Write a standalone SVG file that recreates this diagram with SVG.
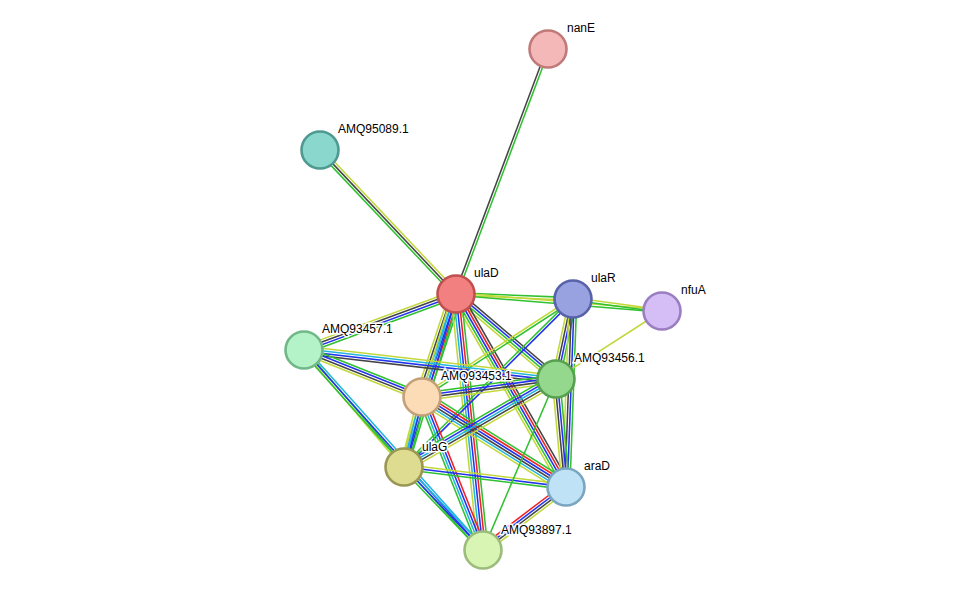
<svg xmlns="http://www.w3.org/2000/svg" width="976" height="597" viewBox="0 0 976 597">
<style>
line{stroke-width:1.1}
.g{stroke:#2fc12f}.b{stroke:#2233ee}.k{stroke:#444}.y{stroke:#c2d83a}.r{stroke:#ee2222}.c{stroke:#22b5dd}
.n circle{stroke-width:2.6}
text{font-family:"Liberation Sans",Arial,sans-serif;font-size:12px;fill:#000;stroke:#fff;stroke-width:3px;paint-order:stroke}
</style>
<rect width="976" height="597" fill="#fff"/>
<g id="edges">
<g transform="translate(456 294) rotate(-69.4) scale(1 1.4)"><line x2="262" y1="-0.9" y2="-0.9" class="k"/><line x2="262" y1="0.9" y2="0.9" class="g"/></g>
<g transform="translate(456 294) rotate(-133.4) scale(1 1.4)"><line x2="198" y1="-1.8" y2="-1.8" class="g"/><line x2="198" class="k"/><line x2="198" y1="1.8" y2="1.8" class="y"/></g>
<g transform="translate(456 294) rotate(2.4) scale(1 1.4)"><line x2="117" y1="-0.9" y2="-0.9" class="g"/><line x2="117" y1="0.9" y2="0.9" class="y"/></g>
<g transform="translate(456 294) rotate(4.7) scale(1 1.4)"><line x2="207" y1="-0.9" y2="-0.9" class="y"/><line x2="207" y1="0.9" y2="0.9" class="g"/></g>
<g transform="translate(456 294) rotate(159.8) scale(1 1.4)"><line x2="162" y1="-2.7" y2="-2.7" class="g"/><line x2="162" y1="-0.9" y2="-0.9" class="b"/><line x2="162" y1="0.9" y2="0.9" class="k"/><line x2="162" y1="2.7" y2="2.7" class="y"/></g>
<g transform="translate(456 294) rotate(108.3) scale(1 1.4)"><line x2="108" y1="-4.5" y2="-4.5" class="g"/><line x2="108" y1="-2.7" y2="-2.7" class="r"/><line x2="108" y1="-0.9" y2="-0.9" class="b"/><line x2="108" y1="0.9" y2="0.9" class="c"/><line x2="108" y1="2.7" y2="2.7" class="k"/><line x2="108" y1="4.5" y2="4.5" class="y"/></g>
<g transform="translate(456 294) rotate(106.7) scale(1 1.4)"><line x2="181" y1="-2.7" y2="-2.7" class="g"/><line x2="181" y1="-0.9" y2="-0.9" class="b"/><line x2="181" y1="0.9" y2="0.9" class="c"/><line x2="181" y1="2.7" y2="2.7" class="y"/></g>
<g transform="translate(456 294) rotate(40.4) scale(1 1.4)"><line x2="131" y1="-2.7" y2="-2.7" class="k"/><line x2="131" y1="-0.9" y2="-0.9" class="b"/><line x2="131" y1="0.9" y2="0.9" class="g"/><line x2="131" y1="2.7" y2="2.7" class="y"/></g>
<g transform="translate(456 294) rotate(60.3) scale(1 1.4)"><line x2="222" y1="-3.6" y2="-3.6" class="k"/><line x2="222" y1="-1.8" y2="-1.8" class="r"/><line x2="222" class="b"/><line x2="222" y1="1.8" y2="1.8" class="g"/><line x2="222" y1="3.6" y2="3.6" class="y"/></g>
<g transform="translate(456 294) rotate(84.0) scale(1 1.4)"><line x2="257" y1="-3.6" y2="-3.6" class="g"/><line x2="257" y1="-1.8" y2="-1.8" class="r"/><line x2="257" class="b"/><line x2="257" y1="1.8" y2="1.8" class="c"/><line x2="257" y1="3.6" y2="3.6" class="y"/></g>
<g transform="translate(573 299) rotate(7.7) scale(1 1.4)"><line x2="90" y1="-0.9" y2="-0.9" class="y"/><line x2="90" y1="0.9" y2="0.9" class="g"/></g>
<g transform="translate(573 299) rotate(102) scale(1 1.4)"><line x2="82" y1="-2.7" y2="-2.7" class="g"/><line x2="82" y1="-0.9" y2="-0.9" class="b"/><line x2="82" y1="0.9" y2="0.9" class="k"/><line x2="82" y1="2.7" y2="2.7" class="y"/></g>
<g transform="translate(573 299) rotate(147) scale(1 1.4)"><line x2="180" y1="-0.9" y2="-0.9" class="g"/><line x2="180" y1="0.9" y2="0.9" class="y"/></g>
<g transform="translate(573 299) rotate(135.2) scale(1 1.4)"><line x2="238" y1="-0.9" y2="-0.9" class="b"/><line x2="238" y1="0.9" y2="0.9" class="g"/></g>
<g transform="translate(573 299) rotate(92.1) scale(1 1.4)"><line x2="188" y1="-2.7" y2="-2.7" class="g"/><line x2="188" y1="-0.9" y2="-0.9" class="b"/><line x2="188" y1="0.9" y2="0.9" class="k"/><line x2="188" y1="2.7" y2="2.7" class="y"/></g>
<g transform="translate(662 311) rotate(147.3) scale(1 1.4)"><line x2="126" class="y"/></g>
<g transform="translate(304 350) rotate(6.6) scale(1 1.4)"><line x2="254" y1="-2.7" y2="-2.7" class="y"/><line x2="254" y1="-0.9" y2="-0.9" class="c"/><line x2="254" y1="0.9" y2="0.9" class="b"/><line x2="254" y1="2.7" y2="2.7" class="k"/></g>
<g transform="translate(304 350) rotate(21.7) scale(1 1.4)"><line x2="127" y1="-2.7" y2="-2.7" class="g"/><line x2="127" y1="-0.9" y2="-0.9" class="b"/><line x2="127" y1="0.9" y2="0.9" class="k"/><line x2="127" y1="2.7" y2="2.7" class="y"/></g>
<g transform="translate(304 350) rotate(49.5) scale(1 1.4)"><line x2="154" y1="-0.9" y2="-0.9" class="g"/><line x2="154" y1="0.9" y2="0.9" class="y"/></g>
<g transform="translate(304 350) rotate(48.2) scale(1 1.4)"><line x2="268" y1="-1.8" y2="-1.8" class="c"/><line x2="268" class="b"/><line x2="268" y1="1.8" y2="1.8" class="g"/></g>
<g transform="translate(422 397) rotate(-7.7) scale(1 1.4)"><line x2="135" y1="-2.7" y2="-2.7" class="g"/><line x2="135" y1="-0.9" y2="-0.9" class="b"/><line x2="135" y1="0.9" y2="0.9" class="k"/><line x2="135" y1="2.7" y2="2.7" class="y"/></g>
<g transform="translate(422 397) rotate(104.4) scale(1 1.4)"><line x2="72" y1="-2.7" y2="-2.7" class="g"/><line x2="72" y1="-0.9" y2="-0.9" class="b"/><line x2="72" y1="0.9" y2="0.9" class="c"/><line x2="72" y1="2.7" y2="2.7" class="y"/></g>
<g transform="translate(422 397) rotate(32) scale(1 1.4)"><line x2="170" y1="-4.5" y2="-4.5" class="g"/><line x2="170" y1="-2.7" y2="-2.7" class="r"/><line x2="170" y1="-0.9" y2="-0.9" class="b"/><line x2="170" y1="0.9" y2="0.9" class="k"/><line x2="170" y1="2.7" y2="2.7" class="c"/><line x2="170" y1="4.5" y2="4.5" class="y"/></g>
<g transform="translate(422 397) rotate(68.3) scale(1 1.4)"><line x2="165" y1="-2.7" y2="-2.7" class="r"/><line x2="165" y1="-0.9" y2="-0.9" class="b"/><line x2="165" y1="0.9" y2="0.9" class="c"/><line x2="165" y1="2.7" y2="2.7" class="g"/></g>
<g transform="translate(404 467) rotate(-30.1) scale(1 1.4)"><line x2="176" y1="-3.6" y2="-3.6" class="g"/><line x2="176" y1="-1.8" y2="-1.8" class="b"/><line x2="176" class="c"/><line x2="176" y1="1.8" y2="1.8" class="k"/><line x2="176" y1="3.6" y2="3.6" class="y"/></g>
<g transform="translate(404 467) rotate(7) scale(1 1.4)"><line x2="163" y1="-1.8" y2="-1.8" class="y"/><line x2="163" class="b"/><line x2="163" y1="1.8" y2="1.8" class="g"/></g>
<g transform="translate(404 467) rotate(46.4) scale(1 1.4)"><line x2="115" y1="-1.8" y2="-1.8" class="c"/><line x2="115" class="b"/><line x2="115" y1="1.8" y2="1.8" class="g"/></g>
<g transform="translate(556 379) rotate(84.7) scale(1 1.4)"><line x2="108" y1="-2.7" y2="-2.7" class="g"/><line x2="108" y1="-0.9" y2="-0.9" class="b"/><line x2="108" y1="0.9" y2="0.9" class="k"/><line x2="108" y1="2.7" y2="2.7" class="y"/></g>
<g transform="translate(556 379) rotate(113.1) scale(1 1.4)"><line x2="186" class="g"/></g>
<g transform="translate(566 487) rotate(142.8) scale(1 1.4)"><line x2="104" y1="-2.7" y2="-2.7" class="y"/><line x2="104" y1="-0.9" y2="-0.9" class="k"/><line x2="104" y1="0.9" y2="0.9" class="b"/><line x2="104" y1="2.7" y2="2.7" class="r"/></g>
</g>
<g id="nanE" class="n"><circle cx="548" cy="49" r="18.5" fill="#f4b8b8" stroke="#c07a7a"/><text x="567" y="32">nanE</text></g>
<g id="AMQ95089.1" class="n"><circle cx="320" cy="150" r="18.5" fill="#8ad7cd" stroke="#4e9a90"/><text x="338" y="133">AMQ95089.1</text></g>
<g id="ulaD" class="n"><circle cx="456" cy="294" r="18.5" fill="#f28080" stroke="#c05050"/><text x="474" y="277">ulaD</text></g>
<g id="ulaR" class="n"><circle cx="573" cy="299" r="18.5" fill="#98a2e0" stroke="#5862a8"/><text x="591" y="282">ulaR</text></g>
<g id="nfuA" class="n"><circle cx="662" cy="311" r="18.5" fill="#d4bef5" stroke="#9a7ec0"/><text x="681" y="294">nfuA</text></g>
<g id="AMQ93457.1" class="n"><circle cx="304" cy="350" r="18.5" fill="#b4f2c8" stroke="#70b888"/><text x="322" y="333">AMQ93457.1</text></g>
<g id="AMQ93456.1" class="n"><circle cx="556" cy="379" r="18.5" fill="#94d88e" stroke="#56a050"/><text x="574" y="362">AMQ93456.1</text></g>
<g id="AMQ93453.1" class="n"><circle cx="422" cy="397" r="18.5" fill="#fbdcb6" stroke="#c4a078"/><text x="441" y="380">AMQ93453.1</text></g>
<g id="ulaG" class="n"><circle cx="404" cy="467" r="18.5" fill="#dedc90" stroke="#9a9654"/><text x="422" y="451">ulaG</text></g>
<g id="araD" class="n"><circle cx="566" cy="487" r="18.5" fill="#bfe2f6" stroke="#7aa6c0"/><text x="584" y="470">araD</text></g>
<g id="AMQ93897.1" class="n"><circle cx="483" cy="550" r="18.5" fill="#d8f5b4" stroke="#9cbc7c"/><text x="501" y="534">AMQ93897.1</text></g>
</svg>
